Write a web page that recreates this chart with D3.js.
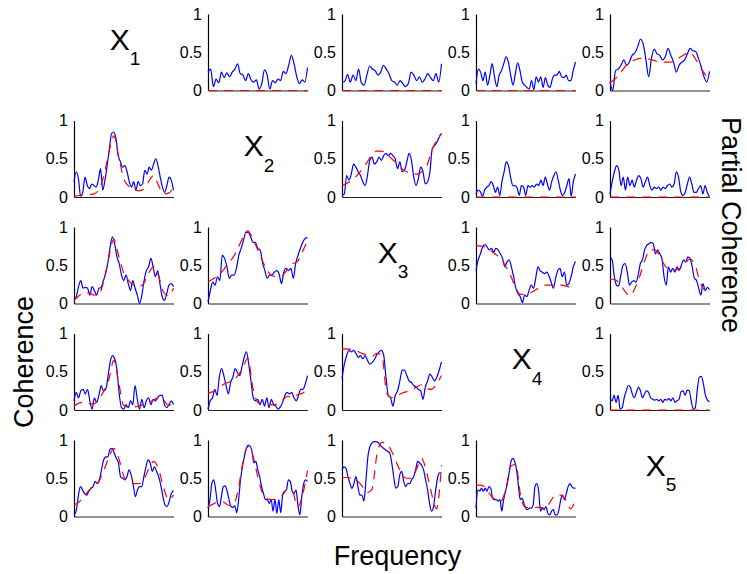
<!DOCTYPE html>
<html>
<head>
<meta charset="utf-8">
<script src="https://cdn.jsdelivr.net/npm/d3@7"></script>
<style>
  body { margin: 0; background: #fff; }
  svg text { font-family: "Liberation Sans", Arial, Helvetica, sans-serif; fill: #000; }
</style>
</head>
<body>
<svg id="chart" width="747" height="574"></svg>
<script>
// Variable indices shown on the diagonal
const varNames = ["1", "2", "3", "4", "5"];
const yTickValues = [0, 0.5, 1];
const yTickLabels = ["0", "0.5", "1"];

// Estimated coherence (blue), sampled evenly across frequency
const blue01 = [0.24,0.28,0.05,0.15,0.10,0.24,0.17,0.23,0.18,0.24,0.28,0.35,0.22,0.20,0.13,0.22,0.14,0.11,0.14,0.02,0.09,0.27,0.20,0.02,0.13,0.10,0.15,0.13,0.25,0.22,0.33,0.46,0.35,0.18,0.09,0.14,0.11,0.30];
const blue02 = [0.11,0.12,0.21,0.11,0.20,0.13,0.28,0.10,0.07,0.20,0.32,0.28,0.26,0.20,0.24,0.33,0.28,0.22,0.13,0.11,0.07,0.13,0.09,0.05,0.09,0.24,0.20,0.13,0.18,0.11,0.15,0.22,0.17,0.13,0.22,0.11,0.35];
const blue03 = [0.09,0.28,0.24,0.13,0.24,0.07,0.20,0.35,0.18,0.05,0.20,0.26,0.35,0.44,0.37,0.20,0.07,0.22,0.36,0.26,0.11,0.07,0.04,0.02,0.13,0.01,0.18,0.11,0.18,0.04,0.17,0.07,0.04,0.15,0.20,0.20,0.25,0.18,0.17,0.20,0.13,0.13,0.26,0.37];
const blue04 = [0.11,0.00,0.26,0.28,0.33,0.40,0.33,0.37,0.46,0.49,0.57,0.67,0.61,0.40,0.18,0.42,0.54,0.48,0.46,0.40,0.44,0.55,0.46,0.37,0.24,0.33,0.37,0.40,0.48,0.55,0.52,0.51,0.42,0.31,0.18,0.11,0.25];
const blue10 = [0.20,0.33,0.24,0.01,0.07,0.26,0.15,0.11,0.17,0.15,0.13,0.22,0.37,0.09,0.22,0.41,0.63,0.83,0.85,0.76,0.54,0.46,0.39,0.41,0.33,0.20,0.13,0.20,0.09,0.20,0.15,0.17,0.35,0.30,0.39,0.35,0.43,0.50,0.41,0.26,0.13,0.06,0.15,0.26,0.22,0.09];
const blue12 = [0.02,0.04,0.28,0.22,0.30,0.43,0.39,0.33,0.28,0.20,0.15,0.28,0.48,0.52,0.43,0.46,0.52,0.48,0.54,0.57,0.54,0.57,0.54,0.50,0.37,0.46,0.33,0.35,0.46,0.57,0.48,0.26,0.15,0.24,0.39,0.33,0.17,0.20,0.33,0.63,0.67,0.72,0.78,0.83];
const blue13 = [0.04,0.09,0.07,0.01,0.09,0.13,0.15,0.20,0.15,0.06,0.13,0.02,0.20,0.33,0.46,0.41,0.26,0.15,0.15,0.12,0.02,0.15,0.13,0.02,0.15,0.13,0.15,0.13,0.17,0.15,0.22,0.15,0.26,0.17,0.09,0.20,0.28,0.33,0.22,0.09,0.02,0.06,0.15,0.24,0.01,0.20,0.30];
const blue14 = [0.04,0.20,0.33,0.41,0.35,0.15,0.26,0.09,0.26,0.15,0.22,0.13,0.22,0.28,0.24,0.13,0.20,0.26,0.15,0.09,0.13,0.11,0.13,0.09,0.13,0.11,0.15,0.17,0.13,0.17,0.33,0.26,0.07,0.02,0.06,0.17,0.26,0.17,0.06,0.06,0.11,0.15,0.04,0.15,0.06,0.01];
const blue20 = [0.04,0.09,0.22,0.30,0.20,0.21,0.20,0.11,0.22,0.17,0.11,0.20,0.21,0.30,0.39,0.54,0.74,0.87,0.78,0.61,0.52,0.37,0.30,0.37,0.26,0.17,0.30,0.20,0.11,0.00,0.11,0.30,0.43,0.48,0.59,0.48,0.35,0.43,0.26,0.09,0.04,0.13,0.24,0.26,0.22];
const blue21 = [0.02,0.17,0.28,0.24,0.35,0.30,0.63,0.59,0.48,0.33,0.37,0.37,0.46,0.63,0.72,0.83,0.93,0.93,0.87,0.80,0.80,0.72,0.70,0.54,0.43,0.33,0.37,0.37,0.41,0.43,0.39,0.26,0.41,0.46,0.43,0.46,0.33,0.52,0.63,0.72,0.80,0.85,0.86];
const blue23 = [0.43,0.57,0.65,0.74,0.77,0.74,0.70,0.72,0.67,0.72,0.70,0.65,0.59,0.48,0.54,0.57,0.48,0.35,0.20,0.13,0.09,0.01,0.11,0.09,0.17,0.24,0.20,0.33,0.48,0.43,0.41,0.39,0.41,0.36,0.28,0.20,0.33,0.43,0.46,0.35,0.41,0.24,0.26,0.35,0.48,0.55];
const blue24 = [0.61,0.57,0.35,0.24,0.23,0.37,0.50,0.52,0.41,0.24,0.28,0.30,0.28,0.37,0.52,0.57,0.70,0.76,0.78,0.80,0.78,0.65,0.70,0.65,0.59,0.35,0.24,0.48,0.41,0.46,0.41,0.48,0.43,0.50,0.57,0.54,0.61,0.59,0.48,0.33,0.30,0.20,0.11,0.26,0.17,0.21,0.18];
const blue30 = [0.12,0.23,0.16,0.25,0.27,0.21,0.27,0.12,0.01,0.16,0.10,0.19,0.32,0.25,0.27,0.43,0.63,0.71,0.67,0.52,0.21,0.03,0.01,0.07,0.03,0.12,0.07,0.32,0.14,0.01,0.14,0.03,0.12,0.16,0.07,0.14,0.12,0.16,0.19,0.19,0.07,0.03,0.07,0.12,0.07];
const blue31 = [0.01,0.12,0.16,0.27,0.19,0.43,0.54,0.45,0.32,0.21,0.36,0.43,0.54,0.49,0.45,0.56,0.69,0.76,0.60,0.38,0.16,0.12,0.14,0.07,0.14,0.05,0.16,0.03,0.14,0.07,0.05,0.01,0.04,0.10,0.19,0.23,0.21,0.23,0.16,0.12,0.19,0.27,0.27,0.34,0.45];
const blue32 = [0.41,0.60,0.71,0.78,0.76,0.78,0.74,0.69,0.71,0.67,0.71,0.65,0.60,0.62,0.66,0.72,0.76,0.78,0.72,0.43,0.19,0.16,0.05,0.19,0.25,0.38,0.52,0.52,0.45,0.38,0.36,0.32,0.30,0.27,0.25,0.14,0.30,0.38,0.47,0.43,0.38,0.43,0.52,0.63];
const blue34 = [0.16,0.12,0.19,0.10,0.19,0.01,0.03,0.16,0.25,0.32,0.30,0.21,0.16,0.23,0.30,0.25,0.16,0.21,0.25,0.23,0.16,0.14,0.13,0.14,0.12,0.14,0.10,0.14,0.13,0.15,0.12,0.16,0.10,0.12,0.14,0.24,0.25,0.19,0.26,0.25,0.12,0.01,0.03,0.27,0.43,0.44,0.34,0.19,0.13,0.11];
const blue40 = [0.02,0.07,0.26,0.39,0.35,0.30,0.28,0.33,0.37,0.39,0.46,0.43,0.48,0.61,0.74,0.78,0.78,0.88,0.89,0.83,0.76,0.70,0.52,0.50,0.48,0.52,0.61,0.54,0.41,0.26,0.35,0.39,0.39,0.52,0.65,0.74,0.70,0.59,0.65,0.59,0.52,0.41,0.26,0.15,0.13,0.20,0.30,0.34];
const blue41 = [0.11,0.22,0.43,0.48,0.35,0.17,0.13,0.26,0.39,0.40,0.33,0.22,0.13,0.12,0.14,0.05,0.22,0.48,0.65,0.78,0.89,0.93,0.92,0.85,0.70,0.72,0.61,0.52,0.39,0.30,0.22,0.22,0.17,0.22,0.07,0.22,0.04,0.22,0.05,0.28,0.33,0.35,0.48,0.46,0.33,0.30,0.35,0.15,0.02,0.26,0.43,0.48,0.46];
const blue42 = [0.61,0.65,0.63,0.52,0.43,0.37,0.43,0.52,0.39,0.28,0.28,0.20,0.46,0.78,0.91,0.96,0.98,0.98,0.97,0.94,0.91,0.89,0.87,0.85,0.83,0.70,0.52,0.37,0.39,0.54,0.59,0.46,0.39,0.43,0.43,0.48,0.52,0.61,0.72,0.70,0.67,0.61,0.48,0.35,0.17,0.07,0.13,0.33,0.50,0.57,0.57];
const blue43 = [0.11,0.35,0.33,0.37,0.33,0.37,0.33,0.39,0.37,0.24,0.22,0.22,0.20,0.22,0.07,0.22,0.33,0.43,0.57,0.72,0.76,0.72,0.61,0.41,0.22,0.24,0.17,0.11,0.09,0.11,0.11,0.15,0.39,0.43,0.33,0.07,0.11,0.09,0.13,0.04,0.02,0.07,0.09,0.02,0.02,0.09,0.22,0.28,0.22,0.30,0.39,0.43,0.39,0.37,0.37];

// Theoretical coherence (red dashed), sampled evenly across frequency
const redZero = [0, 0];
const red04 = [0.10,0.15,0.22,0.31,0.37,0.40,0.42,0.42,0.41,0.39,0.37,0.37,0.37,0.39,0.43,0.47,0.50,0.43,0.32,0.22,0.14];
const red10 = [0.01,0.02,0.03,0.03,0.04,0.10,0.28,0.58,0.80,0.52,0.24,0.14,0.10,0.08,0.10,0.20,0.28,0.15,0.04,0.05,0.13];
const red12 = [0.15,0.18,0.22,0.28,0.36,0.45,0.55,0.60,0.60,0.56,0.50,0.44,0.37,0.33,0.30,0.30,0.33,0.40,0.60,0.74,0.83];
const red20 = [0.04,0.10,0.14,0.14,0.11,0.12,0.30,0.60,0.84,0.62,0.40,0.30,0.24,0.22,0.26,0.40,0.48,0.36,0.15,0.10,0.20];
const red21 = [0.28,0.32,0.37,0.43,0.52,0.60,0.72,0.86,0.95,0.85,0.70,0.55,0.42,0.36,0.35,0.37,0.45,0.52,0.55,0.68,0.82];
const red23 = [0.76,0.75,0.73,0.69,0.64,0.59,0.48,0.36,0.20,0.12,0.12,0.14,0.18,0.22,0.24,0.24,0.24,0.24,0.23,0.21,0.20];
const red24 = [0.32,0.31,0.26,0.16,0.10,0.20,0.36,0.56,0.70,0.70,0.62,0.50,0.44,0.44,0.46,0.52,0.58,0.52,0.30,0.18,0.22];
const red30 = [0.05,0.09,0.10,0.08,0.08,0.14,0.25,0.40,0.65,0.35,0.06,0.04,0.04,0.05,0.07,0.10,0.13,0.16,0.13,0.06,0.10];
const red31 = [0.22,0.24,0.28,0.33,0.36,0.39,0.45,0.55,0.68,0.30,0.10,0.07,0.07,0.07,0.08,0.13,0.18,0.16,0.20,0.22,0.26];
const red32 = [0.80,0.80,0.79,0.77,0.74,0.72,0.70,0.74,0.72,0.22,0.16,0.18,0.22,0.24,0.26,0.30,0.33,0.28,0.27,0.34,0.45];
const red40 = [0.15,0.19,0.26,0.34,0.40,0.46,0.60,0.77,0.89,0.76,0.53,0.45,0.43,0.43,0.48,0.62,0.72,0.62,0.38,0.22,0.28];
const red41 = [0.13,0.16,0.19,0.19,0.15,0.14,0.33,0.70,0.91,0.80,0.52,0.30,0.23,0.22,0.24,0.28,0.36,0.33,0.12,0.28,0.60];
const red42 = [0.51,0.51,0.50,0.47,0.40,0.31,0.35,0.80,0.97,0.95,0.85,0.70,0.55,0.50,0.50,0.62,0.76,0.58,0.30,0.10,0.67];
const red43 = [0.41,0.41,0.37,0.27,0.22,0.20,0.36,0.66,0.68,0.26,0.12,0.12,0.12,0.12,0.10,0.20,0.28,0.28,0.22,0.10,0.22];

// Upper triangle: partial coherence; lower triangle: coherence
const panels = [
  { row: 0, col: 1, blue: blue01, red: redZero },
  { row: 0, col: 2, blue: blue02, red: redZero },
  { row: 0, col: 3, blue: blue03, red: redZero },
  { row: 0, col: 4, blue: blue04, red: red04 },
  { row: 1, col: 0, blue: blue10, red: red10 },
  { row: 1, col: 2, blue: blue12, red: red12 },
  { row: 1, col: 3, blue: blue13, red: redZero },
  { row: 1, col: 4, blue: blue14, red: redZero },
  { row: 2, col: 0, blue: blue20, red: red20 },
  { row: 2, col: 1, blue: blue21, red: red21 },
  { row: 2, col: 3, blue: blue23, red: red23 },
  { row: 2, col: 4, blue: blue24, red: red24 },
  { row: 3, col: 0, blue: blue30, red: red30 },
  { row: 3, col: 1, blue: blue31, red: red31 },
  { row: 3, col: 2, blue: blue32, red: red32 },
  { row: 3, col: 4, blue: blue34, red: redZero },
  { row: 4, col: 0, blue: blue40, red: red40 },
  { row: 4, col: 1, blue: blue41, red: red41 },
  { row: 4, col: 2, blue: blue42, red: red42 },
  { row: 4, col: 3, blue: blue43, red: red43 }
];

const svg = d3.select("#chart");
const panelW = 99.5, panelH = 76.5;
const colX = d3.scaleLinear().domain([0, 4]).range([74, 610]);
const rowY = d3.scaleLinear().domain([0, 4]).range([14, 440]);

const x = d3.scaleLinear().domain([0, 1]).range([0, panelW]);
const y = d3.scaleLinear().domain([0, 1]).range([panelH, 0]);

const line = d3.line()
  .x((d, i, arr) => x(i / (arr.length - 1)))
  .y(d => y(d))
  .curve(d3.curveMonotoneX);

panels.forEach(p => {
  const g = svg.append("g")
    .attr("transform", `translate(${colX(p.col)},${rowY(p.row)})`);

  const yAxis = g.append("g")
    .call(d3.axisLeft(y).tickValues(yTickValues)
      .tickFormat((d, i) => yTickLabels[i])
      .tickSize(0).tickSizeOuter(0).tickPadding(6));
  yAxis.select(".domain").attr("stroke", "#000").attr("stroke-width", 1.2);
  yAxis.selectAll("text").style("font-size", "16px")
    .style("font-family", "'Liberation Sans', Arial, sans-serif");

  const xAxis = g.append("g")
    .attr("transform", `translate(0,${panelH})`)
    .call(d3.axisBottom(x).tickValues([]).tickSizeOuter(0));
  xAxis.select(".domain").attr("stroke", "#222").attr("stroke-width", 1.2);

  g.append("path")
    .datum(p.blue)
    .attr("fill", "none")
    .attr("stroke", "#0000ff")
    .attr("stroke-width", 1.2)
    .attr("d", line);

  g.append("path")
    .datum(p.red)
    .attr("fill", "none")
    .attr("stroke", "#ff0000")
    .attr("stroke-width", 1.2)
    .attr("stroke-dasharray", "9,7")
    .attr("d", line);
});

// Diagonal variable labels X with subscript
varNames.forEach((name, i) => {
  const cx = colX(i) + panelW / 2;
  const t = svg.append("text")
    .attr("x", cx - 14)
    .attr("y", rowY(i) + 35.5)
    .style("font-size", "30px");
  t.append("tspan").text("X");
  t.append("tspan")
    .attr("dy", 15.5)
    .style("font-size", "19px")
    .text(name);
});

svg.append("text")
  .attr("x", 397.5).attr("y", 565)
  .attr("text-anchor", "middle")
  .style("font-size", "27px")
  .text("Frequency");

svg.append("text")
  .attr("transform", "translate(33,362) rotate(-90)")
  .attr("text-anchor", "middle")
  .style("font-size", "27px")
  .text("Coherence");

svg.append("text")
  .attr("transform", "translate(722,225) rotate(90)")
  .attr("text-anchor", "middle")
  .style("font-size", "27px")
  .text("Partial Coherence");
</script>
</body>
</html>
